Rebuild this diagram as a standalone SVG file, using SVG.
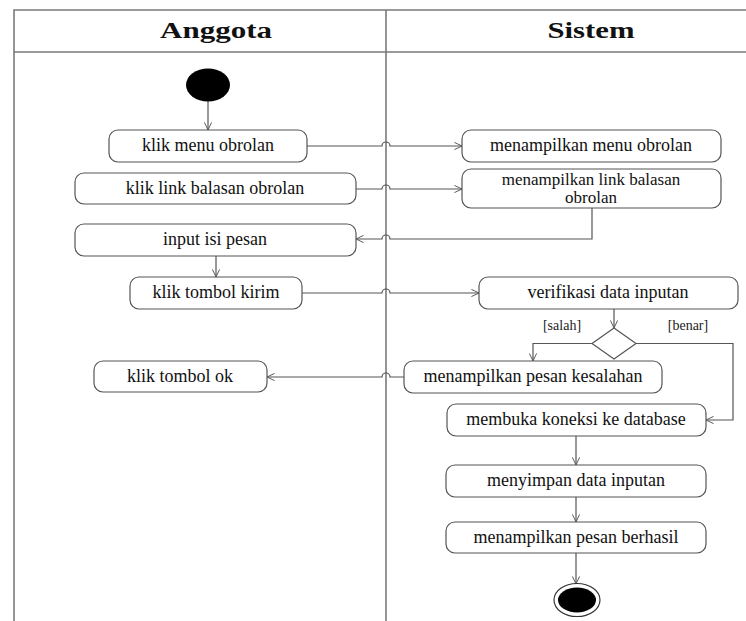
<svg xmlns="http://www.w3.org/2000/svg" width="746" height="621" viewBox="0 0 746 621">
<style>
.frame{fill:none;stroke:#7a7a7a;stroke-width:1.6}
.node rect{fill:#fff;stroke:#555;stroke-width:1.2}
.node text{font-family:"Liberation Serif","Times New Roman",serif;font-size:18px;fill:#111;text-anchor:middle}
.title{font-family:"Liberation Serif","Times New Roman",serif;font-size:23px;font-weight:bold;fill:#111;text-anchor:middle}
.guard{font-family:"Liberation Serif","Times New Roman",serif;font-size:14px;fill:#222;text-anchor:middle}
.edge{fill:none;stroke:#555;stroke-width:1.2;marker-end:url(#arr)}
</style>
<defs>
<marker id="arr" viewBox="0 0 10 10" refX="9.5" refY="5" markerWidth="8" markerHeight="8" markerUnits="userSpaceOnUse" orient="auto">
<path d="M0,0.5 L9.5,5 L0,9.5" fill="none" stroke="#555" stroke-width="1.2"/>
</marker>
</defs>
<rect x="0" y="0" width="746" height="621" fill="#fff"/>
<g id="swimlanes">
<path class="frame" d="M14,621 V10 H746 M14,52 H746 M386,10 V621"/>
<text class="title" x="216" y="38" textLength="112" lengthAdjust="spacingAndGlyphs">Anggota</text>
<text class="title" x="591" y="38" textLength="87" lengthAdjust="spacingAndGlyphs">Sistem</text>
</g>
<g id="connectors">
<path class="edge" d="M208,101 V130"/>
<path class="edge" d="M307,146 H382 A4,4 0 0 1 390,146 H462"/>
<path class="edge" d="M356,189 H382 A4,4 0 0 1 390,189 H462"/>
<path class="edge" d="M592,208 V239 H390 A4,4 0 0 0 382,239 H356"/>
<path class="edge" d="M216,256 V277"/>
<path class="edge" d="M302,293 H382 A4,4 0 0 1 390,293 H479"/>
<path class="edge" d="M614,309 V328"/>
<path class="edge" d="M592,343.5 H533 V361"/>
<path class="edge" d="M636,343.5 H733 V420 H706"/>
<path class="edge" d="M404,377 H390 A4,4 0 0 0 382,377 H267"/>
<path class="edge" d="M576,436 V465"/>
<path class="edge" d="M576,497 V522"/>
<path class="edge" d="M576,553 V584"/>
</g>
<g id="start"><ellipse cx="208" cy="85" rx="22" ry="16.5" fill="#000"/></g>
<g id="n1" class="node"><rect x="109" y="130" width="198" height="32" rx="9"/><text x="208" y="151">klik menu obrolan</text></g>
<g id="n2" class="node"><rect x="462" y="130" width="259" height="32" rx="9"/><text x="591" y="151">menampilkan menu obrolan</text></g>
<g id="n3" class="node"><rect x="75" y="173" width="281" height="31" rx="9"/><text x="215" y="194">klik link balasan obrolan</text></g>
<g id="n4" class="node"><rect x="462" y="169" width="259" height="39" rx="9"/><text x="591" y="185" style="font-size:17px">menampilkan link balasan</text><text x="591" y="203" style="font-size:17px">obrolan</text></g>
<g id="n5" class="node"><rect x="75" y="224" width="281" height="32" rx="9"/><text x="215" y="245">input isi pesan</text></g>
<g id="n6" class="node"><rect x="130" y="277" width="172" height="32" rx="9"/><text x="216" y="298">klik tombol kirim</text></g>
<g id="n7" class="node"><rect x="479" y="277" width="259" height="32" rx="9"/><text x="608" y="298">verifikasi data inputan</text></g>
<g id="decision"><polygon points="614,328 636,343.5 614,359 592,343.5" fill="#fff" stroke="#555" stroke-width="1.2"/>
<text class="guard" x="562" y="330">[salah]</text><text class="guard" x="688" y="330">[benar]</text></g>
<g id="n8" class="node"><rect x="404" y="361" width="258" height="32" rx="9"/><text x="533" y="382">menampilkan pesan kesalahan</text></g>
<g id="n9" class="node"><rect x="94" y="361" width="173" height="31" rx="9"/><text x="180" y="382">klik tombol ok</text></g>
<g id="n10" class="node"><rect x="447" y="404" width="259" height="32" rx="9"/><text x="576" y="425">membuka koneksi ke database</text></g>
<g id="n11" class="node"><rect x="446" y="465" width="260" height="32" rx="9"/><text x="576" y="486">menyimpan data inputan</text></g>
<g id="n12" class="node"><rect x="446" y="522" width="260" height="31" rx="9"/><text x="576" y="543">menampilkan pesan berhasil</text></g>
<g id="end"><ellipse cx="577" cy="600" rx="23" ry="16.5" fill="#fff" stroke="#333" stroke-width="1.2"/><ellipse cx="577" cy="600" rx="19" ry="12.5" fill="#000"/></g>
</svg>
